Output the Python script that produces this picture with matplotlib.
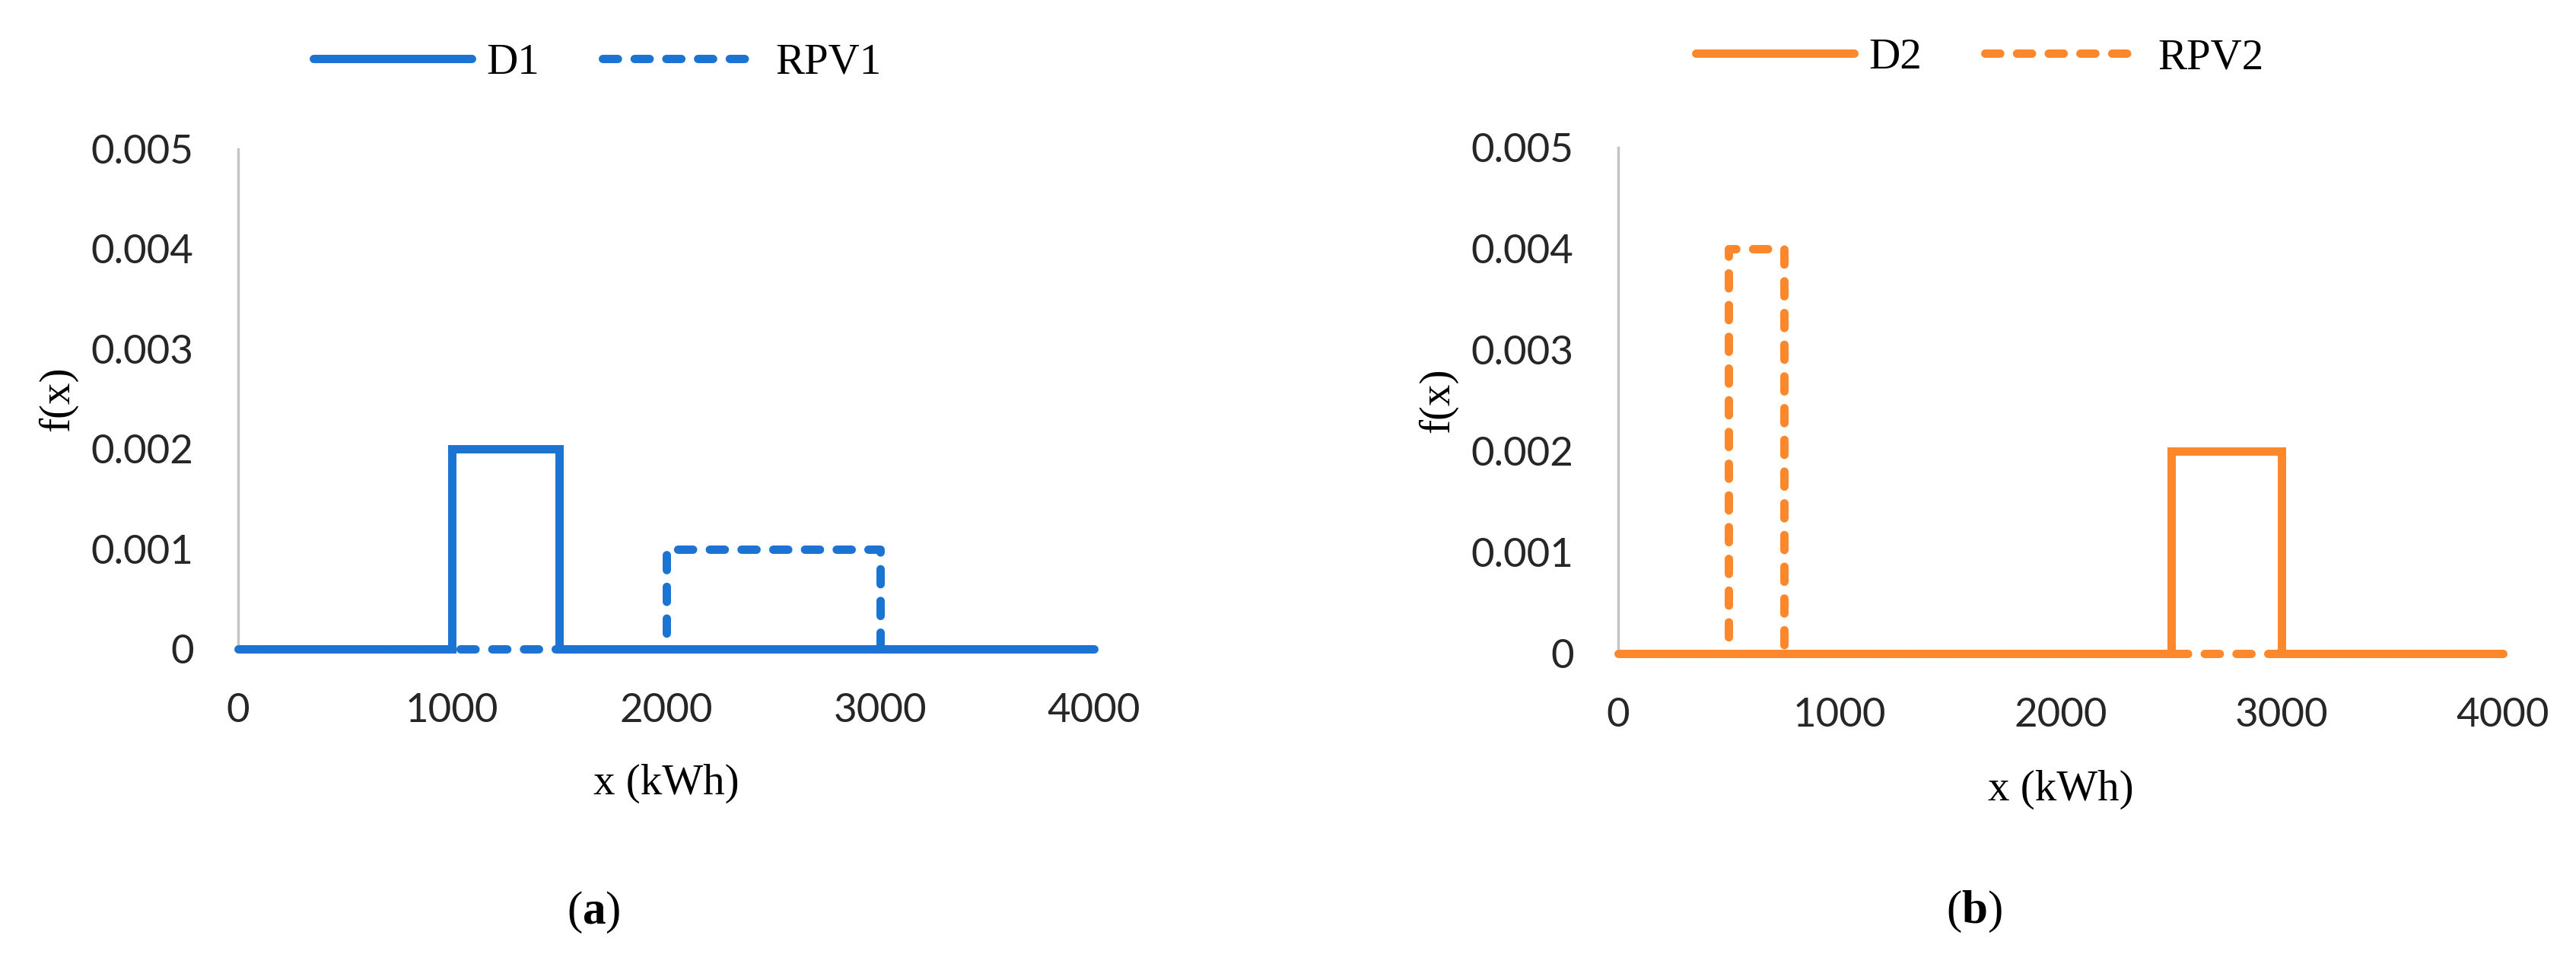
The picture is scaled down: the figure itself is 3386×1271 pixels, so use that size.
import matplotlib
matplotlib.use('Agg')
import matplotlib.pyplot as plt
from matplotlib.lines import Line2D

plt.rcParams['mathtext.fontset'] = 'custom'
plt.rcParams['mathtext.rm'] = 'Liberation Serif'
plt.rcParams['mathtext.bf'] = 'Liberation Serif:bold'

# uniform densities, drawn as step outlines (x in kWh, f(x))
d1_x = [0, 1000, 1000, 1500, 1500, 4000]
d1_y = [0, 0, 0.002, 0.002, 0, 0]
rpv1_x = [0, 2000, 2000, 3000, 3000, 4000]
rpv1_y = [0, 0, 0.001, 0.001, 0, 0]

d2_x = [0, 2500, 2500, 3000, 3000, 4000]
d2_y = [0, 0, 0.002, 0.002, 0, 0]
rpv2_x = [0, 500, 500, 750, 750, 4000]
rpv2_y = [0, 0, 0.004, 0.004, 0, 0]

x_ticks = [0, 1000, 2000, 3000, 4000]
y_ticks = [0, 0.001, 0.002, 0.003, 0.004, 0.005]
y_labels = ['0', '0.001', '0.002', '0.003', '0.004', '0.005']

blue = '#1c74d2'
orange = '#fd882c'
lw = 7.9
dash = (1.8, 2.0)

fig = plt.figure(figsize=(33.86, 12.71), dpi=100)
ax1 = fig.add_axes([313 / 3386, 418 / 1271, 1125 / 3386, 657 / 1271])
ax2 = fig.add_axes([2127 / 3386, 412 / 1271, 1163 / 3386, 665 / 1271])

panels = [
    (ax1, d1_x, d1_y, rpv1_x, rpv1_y, blue, 'D1', 'RPV1', 412 / 3386, 0.9347, -0.187),
    (ax2, d2_x, d2_y, rpv2_x, rpv2_y, orange, 'D2', 'RPV2', 2229 / 3386, 0.9400, -0.181),
]

for ax, dx, dy, rx, ry, col, dname, rname, lgx, lgy, ylx in panels:
    ax.plot(dx, dy, color=col, lw=lw, solid_joinstyle='miter',
            solid_capstyle='butt', clip_on=False, zorder=3)
    ax.plot(rx, ry, color=col, lw=lw, dashes=dash, dash_capstyle='round',
            dash_joinstyle='round', clip_on=False, zorder=4)

    ax.set_xlim(0, 4000)
    ax.set_ylim(0, 0.005)
    ax.set_xticks(x_ticks)
    ax.set_xticklabels([str(v) for v in x_ticks])
    ax.set_yticks(y_ticks)
    ax.set_yticklabels(y_labels)
    ax.tick_params(length=0, pad=42, labelsize=38, labelcolor='#262626')
    for lab in ax.get_xticklabels() + ax.get_yticklabels():
        lab.set_fontfamily('Lato')

    for s in ['top', 'right', 'bottom']:
        ax.spines[s].set_visible(False)
    ax.spines['left'].set_color('#c4c4c4')
    ax.spines['left'].set_linewidth(2.5)

    ax.set_xlabel('x (kWh)', fontsize=41, family='Liberation Serif')
    ax.xaxis.set_label_coords(0.5, -0.23)
    ax.set_ylabel('f(x)', fontsize=41, family='Liberation Serif')
    ax.yaxis.set_label_coords(ylx, 0.5)

    handles = [
        Line2D([], [], color=col, lw=lw, solid_capstyle='round'),
        Line2D([], [], color=col, lw=lw, dashes=dash, dash_capstyle='round'),
    ]
    fig.legend(handles, [dname, rname], loc='center left',
               bbox_to_anchor=(lgx, lgy), ncol=2, frameon=False,
               prop={'family': 'Liberation Serif', 'size': 41},
               handlelength=3.65, handletextpad=0.35, columnspacing=1.44,
               borderpad=0, borderaxespad=0)

fig.text(780 / 3386, 1 - 1199 / 1271, r'($\mathbf{a}$)', fontsize=44,
         ha='center', va='center', family='Liberation Serif')
fig.text(2595 / 3386, 1 - 1198 / 1271, r'($\mathbf{b}$)', fontsize=44,
         ha='center', va='center', family='Liberation Serif')

fig.savefig('out.png', dpi=100, facecolor='white')
